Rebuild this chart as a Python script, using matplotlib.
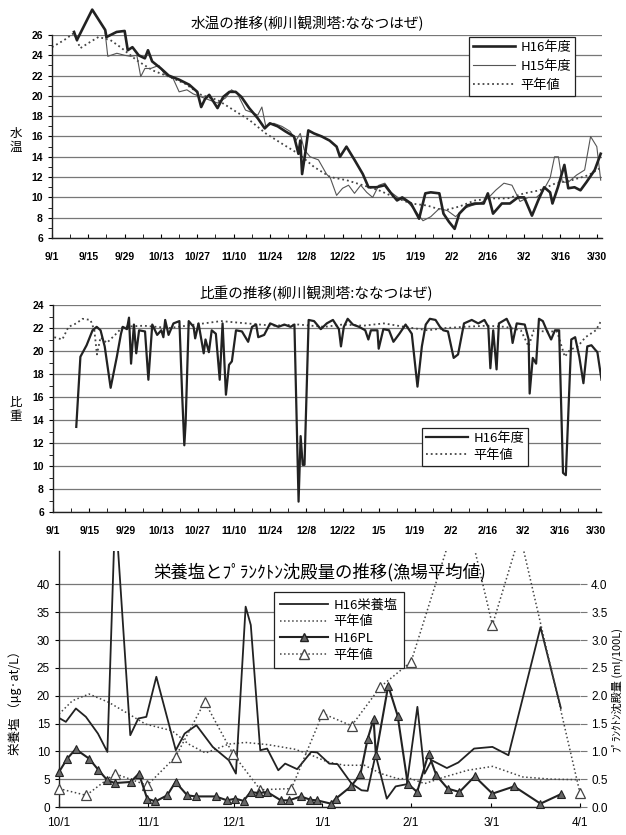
import numpy as np
import matplotlib
matplotlib.use("Agg")
import matplotlib.pyplot as plt
from matplotlib.ticker import MultipleLocator, FixedLocator, FormatStrFormatter
from matplotlib.lines import Line2D

plt.rcParams['font.family'] = ['Liberation Sans Narrow', 'Liberation Sans', 'Noto Sans CJK JP', 'DejaVu Sans']
JP = ['Noto Sans CJK JP', 'DejaVu Sans']
INK = '#222222'
GRID = '#777777'

# ---- 水温 (days counted from 9/1) ----
wt_ticks = ['9/1', '9/15', '9/29', '10/13', '10/27', '11/10', '11/24', '12/8',
            '12/22', '1/5', '1/19', '2/2', '2/16', '3/2', '3/16', '3/30']

h16_day = [8.5, 9.6, 15.5, 20.5, 21, 24.9, 28, 29.2, 31, 33.4, 35.8, 37, 38.6, 42, 45, 49,
           52.9, 56, 57.5, 59, 60.6, 63.8, 66, 68.4, 70.8, 73, 76, 79.3, 82, 84, 87, 90,
           93.3, 95, 95.7, 96.4, 97.7, 98.8, 101, 104, 107, 109.7, 111, 113.5, 116.6,
           119.8, 122, 125, 128.3, 130.7, 133, 135, 138.4, 141.5, 143.9, 146, 149.3,
           150.9, 153, 155.2, 157, 160, 163, 166.4, 168, 170, 173.4, 176.5, 179.6, 182,
           185, 187.4, 189.7, 192, 192.9, 195, 197.5, 199, 201.4, 203.7, 206, 209.2, 211.5]
h16_temp = [26.3, 25.5, 28.5, 26.5, 25.8, 26.3, 26.4, 24.5, 24.8, 24.0, 23.7, 24.5, 23.4,
            22.7, 22.0, 21.6, 21.1, 20.4, 18.9, 19.7, 20.1, 18.8, 19.9, 20.4, 20.4, 19.9,
            18.8, 17.8, 16.8, 17.3, 17.0, 16.5, 16.0, 14.3, 15.6, 12.3, 14.5, 16.6, 16.3,
            16.0, 15.6, 15.0, 14.0, 15.0, 13.7, 12.3, 11.0, 11.0, 11.2, 10.4, 9.7, 10.0,
            9.4, 7.9, 10.4, 10.5, 10.4, 8.4, 7.6, 6.9, 8.4, 9.2, 9.4, 9.4, 10.4, 8.4, 9.4,
            9.4, 10.0, 10.0, 8.2, 9.7, 11.0, 10.5, 9.4, 11.0, 13.2, 10.9, 11.0, 10.7, 11.5,
            12.7, 14.3]

h15_day = [20.5, 21.5, 25, 28, 30.3, 32.7, 34.2, 35.8, 38, 41.2, 43.5, 46.7, 49, 52, 54.4,
           57.5, 60.6, 63.8, 66.9, 69.2, 71.5, 74.6, 77.8, 79.3, 80.9, 82.4, 85.5, 88.6,
           91.8, 94, 95.7, 97.2, 99.5, 102.7, 105.8, 107.3, 109.7, 112, 114.3, 116.6, 119,
           121.3, 123.6, 126, 128.3, 130.7, 133.8, 136.9, 140, 143, 146, 149.3, 152.4,
           155.6, 158.7, 161.8, 164.9, 168, 171, 174.2, 177.3, 180.4, 183.6, 186.7, 189,
           192, 193.7, 195.2, 196.7, 199, 202.2, 205.3, 207.6, 210, 211.5]
h15_temp = [26.2, 23.9, 24.2, 24.0, 23.9, 24.0, 21.9, 22.7, 22.7, 23.0, 22.1, 21.7, 20.4,
            20.6, 20.2, 19.9, 19.6, 19.3, 19.8, 20.6, 20.2, 18.6, 18.3, 18.1, 18.9, 17.0,
            17.3, 17.0, 16.5, 15.6, 16.3, 14.7, 14.0, 13.7, 12.3, 11.9, 10.2, 10.9, 11.2,
            10.4, 11.2, 10.5, 10.0, 11.2, 11.4, 10.5, 9.9, 9.6, 8.7, 7.7, 8.1, 8.9, 8.7,
            8.1, 8.9, 9.2, 9.4, 9.9, 10.7, 11.4, 11.2, 9.6, 10.0, 10.0, 10.5, 11.9, 14.0,
            14.0, 11.5, 11.5, 12.2, 12.7, 16.0, 15.0, 11.7]

wtn_day = [0, 4.7, 8.5, 10.9, 14, 17.9, 22.5, 26.4, 32.7, 38.9, 45, 51.3, 57.5, 63.8, 70,
           76.2, 82.4, 88.6, 95, 101, 107.3, 113.5, 119.8, 126, 132.2, 138.4, 144.6, 150.9,
           157, 163, 169.4, 175.6, 182, 188, 194.2, 200.4, 206.9, 212]
wtn_temp = [24.8, 25.5, 26.2, 24.7, 25.2, 25.8, 25.5, 24.8, 23.5, 22.5, 21.9, 21.2, 20.1,
            19.6, 18.6, 17.6, 16.3, 15.3, 14.3, 13.0, 12.0, 11.7, 11.2, 10.7, 10.0, 9.4,
            9.2, 8.7, 9.1, 9.7, 9.9, 9.9, 10.4, 10.7, 11.4, 11.7, 12.2, 13.0]

# ---- 比重 ----
sg_day = [9, 10.6, 13, 15.3, 16.9, 18.4, 20, 22.3, 24.7, 26.3, 27, 28.6, 29.4, 30.2, 31.3,
          32.2, 33.3, 35.6, 36.9, 38.4, 40.3, 41.9, 42.7, 43.4, 44.7, 46.6, 48.9, 50,
          50.8, 51.3, 52.5, 54.4, 55, 56.3, 58.3, 59, 60.3, 61.4, 63, 64.5, 65.6, 66.9,
          68.1, 69.2, 70.8, 73.1, 75.5, 77, 78.6, 79.4, 81.7, 84, 87.2, 89.5, 91.9, 93.4,
          95, 95.8, 96.6, 97.3, 98.9, 101, 103.6, 105.9, 108.3, 110.6, 111.4, 112.5, 114,
          116, 118.4, 120.8, 122, 123, 125.5, 126, 127.8, 130, 131.7, 134, 136.4, 138.8,
          141, 142.7, 144.2, 145.8, 148, 149.7, 151, 152.8, 155, 156.7, 159, 162, 164.5,
          166.9, 168.4, 169.2, 170.3, 171.6, 172.5, 175.5, 177, 177.8, 179.4, 182.5, 184,
          184.4, 185.6, 186.9, 188, 189.5, 191, 192.7, 194.2, 195.8, 197.3, 198.4, 200.5,
          202, 203.6, 205.2, 206.7, 208.3, 209.8, 210.6, 212.2]
sg_h16 = [13.4, 19.5, 20.5, 21.8, 22.1, 21.8, 20.4, 16.8, 19.5, 21.5, 22.1, 21.9, 22.9,
          18.9, 22.3, 19.8, 21.8, 21.7, 17.5, 22.3, 21.4, 21.8, 21.2, 22.7, 21.4, 22.4,
          22.6, 16.0, 11.8, 13.7, 22.6, 22.1, 21.1, 22.4, 19.8, 21.0, 19.9, 21.8, 21.5,
          17.5, 22.4, 16.2, 18.8, 19.1, 21.8, 21.7, 20.8, 22.1, 22.3, 21.2, 21.4, 22.4,
          22.1, 22.3, 22.1, 22.3, 6.9, 12.6, 10.1, 10.1, 22.7, 22.6, 21.9, 22.4, 22.7,
          21.9, 20.4, 22.1, 22.8, 22.3, 22.1, 21.8, 21.0, 21.8, 21.8, 20.2, 21.9, 21.8,
          20.8, 21.5, 22.3, 21.5, 16.9, 20.4, 22.3, 22.8, 22.7, 22.1, 21.8, 21.7, 19.4,
          19.7, 22.4, 22.7, 22.4, 22.7, 22.1, 18.5, 21.8, 18.4, 22.4, 22.8, 22.1, 20.7,
          22.4, 22.3, 21.0, 16.3, 19.4, 18.9, 22.8, 22.6, 21.8, 21.0, 21.8, 21.8, 9.4,
          9.2, 21.0, 21.2, 19.5, 17.2, 20.4, 20.5, 20.1, 19.9, 17.5]

sgn_day = [0.5, 3.6, 6, 9, 11.4, 14.5, 16, 17, 18.4, 20.8, 24, 27, 35, 45, 55, 65, 75, 85,
           95, 105, 112, 120, 128, 136, 145, 152, 159, 168, 175, 181, 184, 186, 190, 195,
           198, 200, 203, 206, 210, 212]
sgn_norm = [21.2, 21.0, 22.1, 22.4, 22.8, 22.7, 21.8, 19.7, 21.2, 20.7, 21.4, 22.1, 22.2,
            22.0, 22.3, 22.6, 22.4, 22.2, 22.3, 22.1, 22.3, 22.2, 22.4, 22.1, 21.8, 22.0,
            22.1, 22.2, 22.1, 21.8, 20.4, 21.8, 21.7, 21.7, 19.5, 20.1, 20.4, 21.2, 21.8,
            22.6]

# ---- 栄養塩 / プランクトン沈殿量 (days counted from 10/1) ----
mon_day = [0, 31, 61, 92, 123, 151, 182]
mon_lab = ['10/1', '11/1', '12/1', '1/1', '2/1', '3/1', '4/1']

nut_day = [0, 2.4, 5.9, 9.4, 13.6, 16.9, 19.3, 20.4, 24.9, 27.7, 30.5, 34, 40.8, 43.9, 48,
           53.7, 59.3, 61.8, 65.2, 67, 70.3, 72.7, 76.6, 79, 83.2, 88.1, 90.2, 94.4, 97.3,
           102.2, 105.7, 107.8, 110.6, 114.5, 117.6, 121.5, 125.2, 127.7, 130.2, 135.5,
           139.5, 145, 151.4, 157, 168.2, 175.3]
nut_h16 = [16.0, 15.3, 17.7, 16.2, 13.2, 9.9, 48, 48, 12.9, 15.9, 16.2, 23.4, 10.2, 13.2,
           14.7, 10.8, 8.4, 6.0, 36.0, 32.7, 10.2, 10.5, 6.6, 7.8, 6.8, 9.9, 9.8, 7.8, 7.7,
           4.2, 3.0, 2.9, 9.4, 1.5, 3.7, 4.1, 18.0, 6.0, 8.4, 7.0, 8.0, 10.5, 10.8, 9.3,
           32.3, 17.8]

nutn_day = [0, 4.7, 10.5, 17.4, 24.4, 30.2, 39.5, 45.3, 51.2, 59.3, 65.1, 73, 82.2, 86.8,
            93.8, 99.7, 106.7, 112.5, 118.3, 123, 127.7, 134.7, 142.8, 151.5, 162, 172, 182]
nutn_norm = [16.7, 19.1, 20.3, 18.8, 16.7, 14.9, 13.7, 11.3, 9.7, 11.3, 11.6, 11.2, 10.4,
             9.6, 8.1, 7.5, 7.5, 6.0, 5.1, 5.1, 4.2, 5.4, 6.6, 7.3, 5.4, 5.0, 4.9]

pl_day = [0, 2.9, 5.8, 10.5, 13.7, 16.9, 19.5, 25, 27.9, 30.8, 33.7, 37.8, 40.7, 44.8,
          47.7, 54.7, 58.7, 61.6, 64.5, 66.9, 69.8, 72.7, 77.5, 80.4, 84.5, 87.8, 90.1, 95,
          96.7, 102, 105.3, 107.8, 109.9, 110.7, 115, 118.3, 121.8, 125.1, 129.1, 131.8,
          135.8, 139.9, 145.2, 151.4, 159, 168.2, 175.3]
pl_h16 = [0.63, 0.87, 1.04, 0.87, 0.67, 0.48, 0.43, 0.45, 0.60, 0.15, 0.10, 0.21, 0.45,
          0.21, 0.19, 0.19, 0.12, 0.15, 0.11, 0.27, 0.25, 0.27, 0.12, 0.12, 0.19, 0.13,
          0.12, 0.06, 0.15, 0.37, 0.59, 1.22, 1.58, 0.93, 2.18, 1.64, 0.42, 0.27, 0.96,
          0.57, 0.33, 0.27, 0.55, 0.24, 0.37, 0.06, 0.23]

pln_day = [0, 9.5, 19.5, 30.8, 40.7, 50.9, 60.7, 70.3, 81.2, 92.1, 102.2, 112.3, 123, 141,
           151.4, 161, 182]
pln_norm = [0.33, 0.21, 0.60, 0.39, 0.90, 1.89, 0.96, 0.31, 0.33, 1.68, 1.46, 2.16, 2.61,
            5.55, 3.27, 4.9, 0.25]
pln_mark = [True] * 13 + [False, True, False, True]

W, H = 626, 835
fig = plt.figure(figsize=(W / 100, H / 100), dpi=100)


def px_axes(l, t, r, b):
    return fig.add_axes([l / W, 1 - b / H, (r - l) / W, (b - t) / H])


def style(ax):
    ax.spines['top'].set_visible(False)
    ax.spines['right'].set_visible(False)
    for s in ['left', 'bottom']:
        ax.spines[s].set_color(INK)
        ax.spines[s].set_linewidth(1.0)
    ax.grid(axis='y', color=GRID, linewidth=0.9)
    ax.set_axisbelow(True)


def bold_ticks(ax):
    for t in ax.get_xticklabels() + ax.get_yticklabels():
        t.set_fontweight('bold')


def leg(ax, handles, labels, anchor, size=9.5, spacing=0.25, hlen=3.2, bpad=0.3):
    lg = ax.legend(handles, labels, loc='upper right', bbox_to_anchor=anchor,
                   borderaxespad=0, fancybox=False, framealpha=1, handlelength=hlen,
                   labelspacing=spacing, borderpad=bpad, handletextpad=0.4,
                   prop={'family': JP, 'size': size})
    lg.get_frame().set_edgecolor(INK)
    lg.get_frame().set_linewidth(0.9)
    return lg


def stacked(x, y, chars):
    # vertical label written one character under the other
    for i, ch in enumerate(chars):
        fig.text(x / W, 1 - (y + i * 14) / H, ch, family=JP, fontsize=9,
                 ha='center', va='center')


# ---------- 水温 ----------
ax1 = px_axes(52, 35, 602, 238)
style(ax1)
ax1.plot(wtn_day, wtn_temp, ':', color='#444444', lw=1.3, clip_on=False)
ax1.plot(h15_day, h15_temp, '-', color='#555555', lw=0.8, clip_on=False)
ax1.plot(h16_day, h16_temp, '-', color=INK, lw=1.9, clip_on=False)
ax1.set_xlim(0, 212)
ax1.set_ylim(6, 26)
ax1.set_xticks(np.arange(0, 211, 14))
ax1.set_xticklabels(wt_ticks)
ax1.xaxis.set_minor_locator(MultipleLocator(7))
ax1.yaxis.set_major_locator(MultipleLocator(2))
ax1.yaxis.set_minor_locator(MultipleLocator(1))
ax1.tick_params(axis='x', which='both', direction='in', length=3, pad=10, labelsize=7.5)
ax1.tick_params(axis='y', which='both', direction='out', length=3, labelsize=7.5)
bold_ticks(ax1)
leg(ax1, [Line2D([], [], color=INK, lw=1.9), Line2D([], [], color='#555555', lw=0.8),
          Line2D([], [], color='#444444', lw=1.3, ls=':')],
    ['H16年度', 'H15年度', '平年値'], (0.951, 0.99), spacing=0.45)
fig.text(307 / W, 1 - 23 / H, '水温の推移(柳川観測塔:ななつはぜ)', family=JP, fontsize=10.5,
         ha='center', va='center')
stacked(16, 133, '水温')

# ---------- 比重 ----------
ax2 = px_axes(53, 305, 601, 512)
style(ax2)
ax2.plot(sgn_day, sgn_norm, ':', color='#444444', lw=1.3)
ax2.plot(sg_day, sg_h16, '-', color=INK, lw=1.6)
ax2.set_xlim(0, 212)
ax2.set_ylim(6, 24)
ax2.set_xticks(np.arange(0, 211, 14))
ax2.set_xticklabels(wt_ticks)
ax2.xaxis.set_minor_locator(MultipleLocator(7))
ax2.yaxis.set_major_locator(MultipleLocator(2))
ax2.yaxis.set_minor_locator(MultipleLocator(1))
ax2.tick_params(axis='x', which='both', direction='in', length=3, pad=10, labelsize=7.5)
ax2.tick_params(axis='y', which='both', direction='out', length=3, labelsize=7.5)
bold_ticks(ax2)
leg(ax2, [Line2D([], [], color=INK, lw=1.6), Line2D([], [], color='#444444', lw=1.3, ls=':')],
    ['H16年度', '平年値'], (0.867, 0.406), spacing=0.3)
fig.text(316 / W, 1 - 293 / H, '比重の推移(柳川観測塔:ななつはぜ)', family=JP, fontsize=10.5,
         ha='center', va='center')
stacked(16, 402, '比重')

# ---------- 栄養塩とプランクトン沈殿量 ----------
ax3 = px_axes(59, 551, 580, 807)
style(ax3)
ax3.plot(nutn_day, nutn_norm, ':', color='#444444', lw=1.1)
ax3.plot(nut_day, nut_h16, '-', color=INK, lw=1.3)
ax3.set_xlim(0, 182)
ax3.set_ylim(0, 46)
ax3.yaxis.set_major_locator(FixedLocator(np.arange(0, 41, 5)))
ax3.set_xticks(mon_day)
ax3.set_xticklabels(mon_lab)
ax3.tick_params(axis='x', direction='in', length=3, pad=7, labelsize=8.5)
ax3.tick_params(axis='y', direction='out', length=3, labelsize=8.5)

ax3r = ax3.twinx()
ax3r.set_ylim(0, 4.6)
ax3r.yaxis.set_major_locator(FixedLocator(np.arange(0, 4.01, 0.5)))
ax3r.yaxis.set_major_formatter(FormatStrFormatter('%.1f'))
for s in ['top', 'left', 'bottom', 'right']:
    ax3r.spines[s].set_visible(False)
ax3r.tick_params(axis='y', direction='out', length=5, color=GRID, labelsize=8.5, pad=3)
ax3r.plot(pln_day, pln_norm, ':', color='#444444', lw=1.1)
mark_x = [d for d, m in zip(pln_day, pln_mark) if m]
mark_y = [v for v, m in zip(pln_norm, pln_mark) if m]
ax3r.plot(mark_x, mark_y, '^', ms=6.5, mfc='white', mec='#444444', mew=0.9, ls='none',
          clip_on=False)
ax3r.plot(pl_day, pl_h16, '-^', color=INK, lw=1.5, ms=5.5, mfc='#666666', mec=INK, mew=0.8,
          clip_on=False)
leg(ax3r, [Line2D([], [], color=INK, lw=1.3),
           Line2D([], [], color='#444444', lw=1.1, ls=':'),
           Line2D([], [], color=INK, lw=1.5, marker='^', ms=5.5, mfc='#666666', mec=INK),
           Line2D([], [], color='#444444', lw=1.1, ls=':', marker='^', ms=6.5, mfc='white',
                  mec='#444444')],
    ['H16栄養塩', '平年値', 'H16PL', '平年値'], (0.662, 0.84), size=9.5, spacing=0.28,
    hlen=3.6, bpad=0.5)
fig.text(320 / W, 1 - 572 / H, '栄養塩とﾌﾟﾗﾝｸﾄﾝ沈殿量の推移(漁場平均値)', family=JP,
         fontsize=12.5, ha='center', va='center')
fig.text(15 / W, 1 - 700 / H, '栄養塩 （μg·at/L）', family=JP, fontsize=9, rotation=90,
         ha='center', va='center')
fig.text(617 / W, 1 - 690 / H, 'ﾌﾟﾗﾝｸﾄﾝ沈殿量 (ml/100L)', family=JP, fontsize=8, rotation=90,
         ha='center', va='center')

fig.savefig('out.png', dpi=100, facecolor='white')
